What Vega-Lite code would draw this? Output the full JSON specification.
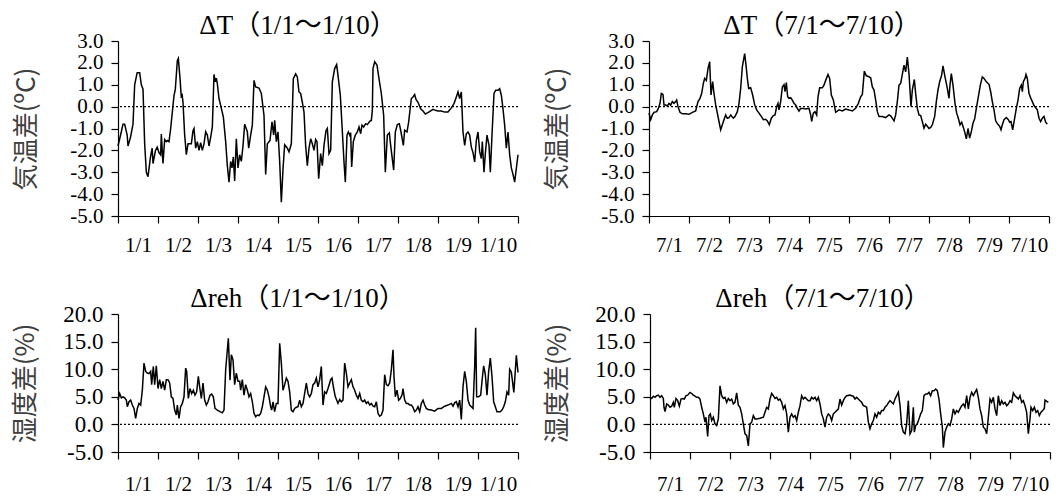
{
"$schema": "https://vega.github.io/schema/vega-lite/v6.json",
"background": "white",
"padding": {"left": 12, "top": 12, "right": 0, "bottom": 0},
"config": {
  "view": {"stroke": null},
  "title": {"font": "Liberation Serif, Noto Sans CJK JP", "fontSize": 27, "fontWeight": "normal", "color": "black", "anchor": "middle", "offset": -10},
  "axis": {"grid": false, "ticks": true, "tickOpacity": 1, "tickWidth": 1.2, "domainColor": "black", "domainWidth": 1.2, "tickColor": "black", "tickSize": 7, "labelFont": "Liberation Serif", "labelFontSize": 21, "labelColor": "black", "labelPadding": 8, "labelOverlap": false, "labelSeparation": 0, "titleFont": "Noto Sans CJK JP", "titleFontSize": 26, "titleFontWeight": "normal", "titleColor": "#404040"},
  "axisY": {"labelOverlap": false, "ticks": true},
  "axisX": {"ticks": true},
  "line": {"color": "black", "strokeWidth": 1.5},
  "rule": {"color": "black", "strokeWidth": 1.2, "strokeDash": [2, 2]}
},
"datasets": {
"tjan": [{"h":0,"v":-1.8},{"h":2,"v":-1.15},{"h":3,"v":-0.8},{"h":4,"v":-0.8},{"h":5.5,"v":-1.3},{"h":6,"v":-1.8},{"h":7.5,"v":-1.4},{"h":9,"v":-0.8},{"h":10,"v":1.0},{"h":11.5,"v":1.55},{"h":13,"v":1.55},{"h":14,"v":1.0},{"h":15,"v":0.8},{"h":16,"v":-1.7},{"h":17,"v":-3.0},{"h":18,"v":-3.2},{"h":19.5,"v":-2.3},{"h":20.5,"v":-1.9},{"h":21,"v":-2.6},{"h":22.5,"v":-2.0},{"h":23.5,"v":-1.85},{"h":24.6,"v":-2.1},{"h":25.6,"v":-2.2},{"h":26,"v":-1.25},{"h":27,"v":-2.6},{"h":28,"v":-1.5},{"h":29,"v":-1.6},{"h":29.6,"v":-1.55},{"h":30.6,"v":-1.6},{"h":31.6,"v":-1.0},{"h":33.6,"v":0.5},{"h":34.4,"v":0.8},{"h":35.6,"v":2.1},{"h":36.2,"v":2.2},{"h":37.2,"v":1.3},{"h":38,"v":0.4},{"h":38.4,"v":0.6},{"h":39,"v":0.2},{"h":40,"v":-1.3},{"h":41,"v":-2.2},{"h":42,"v":-1.7},{"h":44,"v":-1.7},{"h":45,"v":-1.1},{"h":45.6,"v":-1.0},{"h":46.6,"v":-1.9},{"h":47.6,"v":-1.6},{"h":48.6,"v":-2.0},{"h":49.6,"v":-1.65},{"h":50.6,"v":-2.0},{"h":51.6,"v":-1.7},{"h":52.6,"v":-1.15},{"h":53.6,"v":-1.3},{"h":54.6,"v":-1.8},{"h":55.6,"v":-1.4},{"h":56.6,"v":-0.93},{"h":57.6,"v":1.47},{"h":58.4,"v":1.13},{"h":59,"v":1.3},{"h":59.6,"v":1.05},{"h":60.6,"v":0.37},{"h":61.6,"v":0.06},{"h":63.2,"v":-0.47},{"h":64.6,"v":-1.6},{"h":65.6,"v":-2.7},{"h":66.6,"v":-3.45},{"h":67.6,"v":-2.5},{"h":68.4,"v":-2.8},{"h":69.2,"v":-2.3},{"h":70,"v":-3.4},{"h":71,"v":-1.47},{"h":72,"v":-2.8},{"h":73,"v":-2.2},{"h":74,"v":-2.5},{"h":75,"v":-1.8},{"h":76,"v":-0.8},{"h":77.6,"v":-1.15},{"h":78.4,"v":-1.9},{"h":79.6,"v":-1.3},{"h":80.6,"v":-0.85},{"h":81.6,"v":1.2},{"h":82.6,"v":0.9},{"h":84.6,"v":0.85},{"h":86,"v":0.6},{"h":87.6,"v":-0.4},{"h":88.6,"v":-3.1},{"h":89.6,"v":-1.7},{"h":91.2,"v":-1.55},{"h":92.4,"v":-0.7},{"h":93.4,"v":-1.3},{"h":94,"v":-0.63},{"h":95,"v":-1.6},{"h":96,"v":-1.15},{"h":97,"v":-2.5},{"h":98,"v":-4.37},{"h":99,"v":-2.85},{"h":100,"v":-1.74},{"h":101.6,"v":-1.9},{"h":102.6,"v":-2.07},{"h":104,"v":-1.7},{"h":105.2,"v":1.28},{"h":106.6,"v":1.5},{"h":107.6,"v":1.36},{"h":108.6,"v":0.67},{"h":109.6,"v":0.6},{"h":110.6,"v":0.2},{"h":111.6,"v":-0.25},{"h":112.6,"v":-1.8},{"h":113.6,"v":-2.7},{"h":114.6,"v":-1.9},{"h":115.6,"v":-1.47},{"h":116.6,"v":-1.7},{"h":117.6,"v":-2.0},{"h":118.6,"v":-1.5},{"h":119.4,"v":-1.6},{"h":120.4,"v":-3.3},{"h":121.6,"v":-2.15},{"h":122.6,"v":-2.7},{"h":123.6,"v":-1.77},{"h":124.8,"v":-1.1},{"h":125.6,"v":-1.0},{"h":126.6,"v":-2.15},{"h":127.6,"v":-2.0},{"h":128.6,"v":1.13},{"h":130,"v":1.74},{"h":131.2,"v":1.92},{"h":132,"v":1.43},{"h":133.4,"v":0.52},{"h":134.4,"v":-0.85},{"h":135.6,"v":-2.53},{"h":136.4,"v":-3.45},{"h":137.4,"v":-1.3},{"h":138.2,"v":-1.16},{"h":139,"v":-1.3},{"h":139.6,"v":-1.2},{"h":140.2,"v":-2.76},{"h":141.2,"v":-1.6},{"h":142.4,"v":-1.3},{"h":143.6,"v":-1.16},{"h":144.6,"v":-0.93},{"h":145.6,"v":-1.24},{"h":146.4,"v":-0.85},{"h":147.4,"v":-0.93},{"h":148.6,"v":-0.78},{"h":149.6,"v":-0.82},{"h":151,"v":-0.67},{"h":152,"v":-0.63},{"h":152.6,"v":-0.17},{"h":153,"v":1.74},{"h":154,"v":2.05},{"h":155.4,"v":1.9},{"h":156.6,"v":1.28},{"h":158,"v":0.6},{"h":159.4,"v":-0.4},{"h":160.4,"v":-3.0},{"h":161.6,"v":-1.3},{"h":162.8,"v":-1.2},{"h":163.6,"v":-1.77},{"h":165.4,"v":-2.9},{"h":166.4,"v":-1.16},{"h":167.6,"v":-0.82},{"h":168.8,"v":-0.78},{"h":169.8,"v":-1.16},{"h":171.2,"v":-1.77},{"h":172,"v":-1.08},{"h":173.4,"v":-1.16},{"h":174.4,"v":-0.7},{"h":176,"v":0.37},{"h":177,"v":0.44},{"h":178,"v":0.55},{"h":178.8,"v":0.33},{"h":180,"v":0.2},{"h":181.6,"v":-0.1},{"h":183,"v":-0.2},{"h":184.4,"v":-0.34},{"h":186.4,"v":-0.25},{"h":189,"v":-0.12},{"h":190.4,"v":-0.17},{"h":192,"v":-0.2},{"h":194,"v":-0.2},{"h":196,"v":-0.25},{"h":198,"v":-0.25},{"h":200,"v":-0.06},{"h":201.6,"v":0.14},{"h":203,"v":0.44},{"h":204,"v":0.67},{"h":205,"v":0.37},{"h":206,"v":0.67},{"h":207,"v":-1.16},{"h":208,"v":-1.77},{"h":209,"v":-1.24},{"h":210,"v":-1.16},{"h":211,"v":-1.3},{"h":212,"v":-1.85},{"h":213,"v":-2.1},{"h":214,"v":-2.53},{"h":215,"v":-1.55},{"h":216,"v":-1.16},{"h":217,"v":-2.06},{"h":218,"v":-2.37},{"h":218.6,"v":-1.6},{"h":219.6,"v":-3.0},{"h":220.4,"v":-2.15},{"h":221.4,"v":-1.3},{"h":222.6,"v":-1.77},{"h":223.4,"v":-3.0},{"h":224.4,"v":-1.3},{"h":225.6,"v":0.6},{"h":226.6,"v":0.75},{"h":228,"v":0.75},{"h":229,"v":0.82},{"h":230,"v":0.52},{"h":231,"v":-0.1},{"h":232,"v":-0.85},{"h":233,"v":-1.9},{"h":234,"v":-1.16},{"h":235,"v":-2.2},{"h":236,"v":-2.8},{"h":237,"v":-3.1},{"h":238,"v":-3.45},{"h":240,"v":-2.2}],
"tjul": [{"h":0,"v":-0.3},{"h":1,"v":-0.6},{"h":2,"v":-0.38},{"h":3,"v":-0.26},{"h":4.6,"v":-0.23},{"h":5.6,"v":-0.08},{"h":6.6,"v":0.15},{"h":7.4,"v":0.6},{"h":8.4,"v":0.56},{"h":9,"v":0.07},{"h":10,"v":0.07},{"h":11,"v":0.03},{"h":12,"v":0.15},{"h":13,"v":0.07},{"h":14,"v":0.23},{"h":15,"v":0.15},{"h":16,"v":0.23},{"h":16.6,"v":0.3},{"h":17.4,"v":0.0},{"h":18.6,"v":-0.26},{"h":20,"v":-0.33},{"h":22,"v":-0.33},{"h":24,"v":-0.35},{"h":26,"v":-0.26},{"h":28,"v":-0.2},{"h":29.4,"v":0.23},{"h":30.6,"v":0.38},{"h":31.6,"v":0.6},{"h":32.6,"v":1.06},{"h":33.4,"v":1.29},{"h":34.4,"v":1.2},{"h":35.4,"v":1.74},{"h":36.4,"v":2.05},{"h":37.2,"v":0.53},{"h":38.2,"v":1.14},{"h":39,"v":0.6},{"h":40,"v":0.08},{"h":41,"v":-0.3},{"h":42,"v":-0.68},{"h":43,"v":-1.06},{"h":44,"v":-0.83},{"h":45,"v":-0.6},{"h":46,"v":-0.38},{"h":47,"v":-0.53},{"h":48,"v":-0.5},{"h":49,"v":-0.38},{"h":50.6,"v":-0.53},{"h":51.6,"v":-0.45},{"h":53,"v":-0.23},{"h":54,"v":0.15},{"h":55,"v":0.83},{"h":56,"v":1.82},{"h":57.4,"v":2.42},{"h":58.2,"v":1.9},{"h":59,"v":1.29},{"h":59.8,"v":0.83},{"h":61,"v":0.86},{"h":62.2,"v":0.53},{"h":63.4,"v":0.08},{"h":64.6,"v":-0.15},{"h":66,"v":-0.3},{"h":67.4,"v":-0.45},{"h":68.6,"v":-0.6},{"h":70,"v":-0.58},{"h":71,"v":-0.65},{"h":72.2,"v":-0.83},{"h":73.4,"v":-0.53},{"h":74.6,"v":-0.41},{"h":75.6,"v":-0.38},{"h":76.6,"v":0.0},{"h":77.4,"v":0.15},{"h":78,"v":-0.15},{"h":79,"v":0.23},{"h":80,"v":0.9},{"h":81,"v":1.0},{"h":81.6,"v":0.68},{"h":82.4,"v":1.1},{"h":83.2,"v":0.45},{"h":84,"v":0.38},{"h":85,"v":0.41},{"h":86,"v":0.3},{"h":87,"v":0.15},{"h":88,"v":0.08},{"h":89,"v":-0.08},{"h":90,"v":-0.2},{"h":91,"v":-0.08},{"h":92.6,"v":-0.08},{"h":94,"v":-0.11},{"h":96,"v":-0.08},{"h":97,"v":-0.38},{"h":97.6,"v":-0.68},{"h":98.6,"v":-0.3},{"h":99.6,"v":-0.23},{"h":100.6,"v":-0.38},{"h":101.4,"v":0.45},{"h":102.4,"v":0.86},{"h":104,"v":0.86},{"h":105,"v":0.98},{"h":106,"v":1.2},{"h":107.4,"v":1.47},{"h":108.4,"v":1.29},{"h":109.4,"v":0.53},{"h":110.6,"v":0.3},{"h":112,"v":-0.26},{"h":114,"v":-0.15},{"h":116,"v":-0.2},{"h":118,"v":-0.11},{"h":120,"v":-0.15},{"h":122,"v":-0.2},{"h":124,"v":-0.08},{"h":125.6,"v":0.15},{"h":127,"v":0.45},{"h":128,"v":0.56},{"h":129.2,"v":1.62},{"h":130.4,"v":1.41},{"h":131.6,"v":1.38},{"h":133,"v":1.32},{"h":134,"v":0.9},{"h":135,"v":0.76},{"h":136,"v":0.3},{"h":137,"v":-0.23},{"h":138,"v":-0.45},{"h":140,"v":-0.45},{"h":142,"v":-0.5},{"h":144,"v":-0.38},{"h":145,"v":-0.42},{"h":146,"v":-0.53},{"h":147,"v":-0.65},{"h":148,"v":-0.38},{"h":149,"v":0.23},{"h":150,"v":0.98},{"h":151,"v":1.06},{"h":152,"v":1.47},{"h":153,"v":1.9},{"h":154,"v":1.59},{"h":155,"v":2.27},{"h":156,"v":1.5},{"h":157.2,"v":0.0},{"h":158,"v":0.76},{"h":159.2,"v":1.24},{"h":160,"v":0.6},{"h":161,"v":-0.08},{"h":162,"v":-0.38},{"h":163,"v":-0.41},{"h":164,"v":-0.68},{"h":165,"v":-0.98},{"h":166,"v":-0.8},{"h":167,"v":-0.9},{"h":168,"v":-1.0},{"h":169,"v":-0.95},{"h":170,"v":-0.83},{"h":171.4,"v":-0.45},{"h":172.4,"v":0.23},{"h":173.4,"v":0.76},{"h":174.4,"v":1.14},{"h":175.6,"v":1.44},{"h":176.4,"v":1.86},{"h":177.6,"v":1.36},{"h":179,"v":0.83},{"h":180,"v":0.38},{"h":180.6,"v":0.98},{"h":181.4,"v":1.51},{"h":182.4,"v":0.98},{"h":183.6,"v":0.15},{"h":184.6,"v":-0.3},{"h":185.6,"v":-0.53},{"h":186.6,"v":-0.83},{"h":187.6,"v":-0.71},{"h":188.6,"v":-0.95},{"h":189.6,"v":-1.21},{"h":190.4,"v":-1.47},{"h":191.4,"v":-1.0},{"h":192.4,"v":-1.44},{"h":193.4,"v":-1.14},{"h":194.4,"v":-0.76},{"h":195.4,"v":-0.56},{"h":196.4,"v":-0.08},{"h":197.6,"v":0.45},{"h":198.8,"v":0.98},{"h":200,"v":1.36},{"h":201,"v":1.29},{"h":202.4,"v":1.14},{"h":204,"v":1.02},{"h":205,"v":0.68},{"h":206,"v":0.23},{"h":207,"v":-0.15},{"h":208,"v":-0.65},{"h":209.2,"v":-0.8},{"h":210.4,"v":-0.9},{"h":211.2,"v":-1.06},{"h":212,"v":-0.83},{"h":213,"v":-0.6},{"h":214.4,"v":-0.5},{"h":215.6,"v":-0.6},{"h":216.4,"v":-0.71},{"h":217.2,"v":-0.68},{"h":218.2,"v":-1.06},{"h":219.4,"v":-0.53},{"h":220.4,"v":-0.08},{"h":221.4,"v":0.3},{"h":222.4,"v":0.83},{"h":223.4,"v":0.98},{"h":224,"v":0.68},{"h":224.6,"v":1.14},{"h":225.6,"v":1.29},{"h":226.2,"v":1.47},{"h":227,"v":1.29},{"h":228,"v":0.6},{"h":229,"v":0.4},{"h":230,"v":0.23},{"h":231,"v":0.05},{"h":232,"v":-0.05},{"h":233,"v":-0.15},{"h":234,"v":-0.53},{"h":235,"v":-0.68},{"h":236,"v":-0.53},{"h":237,"v":-0.45},{"h":238,"v":-0.71},{"h":239,"v":-0.8}],
"rjan": [{"h":0,"v":4.4},{"h":1,"v":5.6},{"h":2,"v":4.8},{"h":3,"v":5.0},{"h":4,"v":4.8},{"h":5,"v":4.4},{"h":5.6,"v":3.2},{"h":6.6,"v":4.1},{"h":7.6,"v":4.4},{"h":8.6,"v":3.5},{"h":9.6,"v":2.9},{"h":10.6,"v":1.1},{"h":11.6,"v":2.9},{"h":12.6,"v":3.8},{"h":13.6,"v":3.5},{"h":14.6,"v":6.2},{"h":15.6,"v":11.1},{"h":16.6,"v":9.6},{"h":17.6,"v":9.3},{"h":18.6,"v":9.2},{"h":19.6,"v":9.6},{"h":20.2,"v":7.2},{"h":21.2,"v":10.5},{"h":22,"v":7.2},{"h":23,"v":10.6},{"h":24,"v":6.5},{"h":25,"v":8.1},{"h":26,"v":6.5},{"h":27,"v":7.8},{"h":28,"v":6.2},{"h":29,"v":8.1},{"h":30,"v":8.1},{"h":31,"v":7.5},{"h":32,"v":5.0},{"h":33,"v":4.7},{"h":34,"v":2.6},{"h":35,"v":1.7},{"h":35.6,"v":3.5},{"h":36.6,"v":1.1},{"h":37.6,"v":3.2},{"h":38.6,"v":3.8},{"h":39.6,"v":5.0},{"h":40.6,"v":10.2},{"h":41.2,"v":9.6},{"h":42.2,"v":4.7},{"h":43.2,"v":6.5},{"h":44.2,"v":5.6},{"h":45.2,"v":6.2},{"h":46.2,"v":5.3},{"h":47.2,"v":5.9},{"h":48.2,"v":8.7},{"h":49,"v":6.8},{"h":50,"v":4.7},{"h":51,"v":7.5},{"h":52,"v":4.4},{"h":53,"v":3.5},{"h":54,"v":4.1},{"h":55.2,"v":5.3},{"h":56.2,"v":5.5},{"h":57.2,"v":5.0},{"h":58.2,"v":2.9},{"h":59.6,"v":2.6},{"h":61.2,"v":2.3},{"h":62.6,"v":2.1},{"h":63.6,"v":2.6},{"h":64.6,"v":9.9},{"h":66.2,"v":15.6},{"h":67.2,"v":8.0},{"h":68,"v":12.6},{"h":69,"v":11.7},{"h":70,"v":7.2},{"h":71,"v":9.3},{"h":72,"v":7.8},{"h":73,"v":7.8},{"h":73.6,"v":6.2},{"h":74.6,"v":8.1},{"h":75.6,"v":5.3},{"h":76.6,"v":7.2},{"h":77.6,"v":6.2},{"h":78.6,"v":5.0},{"h":79.6,"v":5.6},{"h":80.6,"v":4.1},{"h":81.6,"v":2.0},{"h":82.6,"v":1.4},{"h":83.6,"v":1.7},{"h":84.6,"v":1.6},{"h":85.6,"v":2.0},{"h":86.6,"v":3.2},{"h":87.6,"v":5.0},{"h":88.6,"v":6.8},{"h":89.6,"v":6.2},{"h":90.6,"v":5.0},{"h":91.6,"v":3.2},{"h":92.2,"v":2.6},{"h":93,"v":4.1},{"h":94,"v":2.3},{"h":95,"v":3.8},{"h":96,"v":3.8},{"h":97,"v":14.7},{"h":98,"v":11.1},{"h":99,"v":6.2},{"h":100,"v":7.2},{"h":101,"v":8.4},{"h":102,"v":7.8},{"h":103,"v":5.9},{"h":104,"v":2.6},{"h":105,"v":2.3},{"h":106,"v":2.9},{"h":107,"v":3.1},{"h":108,"v":3.2},{"h":109,"v":4.4},{"h":110,"v":3.2},{"h":111,"v":3.8},{"h":112,"v":5.6},{"h":113,"v":7.5},{"h":114,"v":5.6},{"h":115,"v":5.0},{"h":116,"v":5.6},{"h":117,"v":7.2},{"h":118,"v":7.5},{"h":119,"v":8.4},{"h":120,"v":6.8},{"h":121,"v":8.1},{"h":122,"v":10.5},{"h":123,"v":3.5},{"h":124,"v":5.9},{"h":125,"v":5.6},{"h":126,"v":6.5},{"h":127.6,"v":8.1},{"h":128.4,"v":8.4},{"h":129.4,"v":6.5},{"h":130.4,"v":5.0},{"h":132,"v":3.8},{"h":133,"v":4.5},{"h":134,"v":4.1},{"h":135,"v":4.4},{"h":136,"v":11.1},{"h":137,"v":9.3},{"h":138,"v":6.8},{"h":139,"v":7.5},{"h":140,"v":8.1},{"h":141,"v":6.8},{"h":142,"v":6.2},{"h":143,"v":5.3},{"h":144,"v":4.7},{"h":145,"v":5.6},{"h":146,"v":4.4},{"h":147,"v":4.1},{"h":148,"v":4.4},{"h":149,"v":3.8},{"h":150,"v":4.1},{"h":151,"v":3.5},{"h":152,"v":3.8},{"h":153,"v":3.3},{"h":154,"v":3.2},{"h":155,"v":4.1},{"h":156,"v":2.0},{"h":157,"v":1.5},{"h":158,"v":1.7},{"h":159,"v":2.6},{"h":160,"v":9.0},{"h":161,"v":7.2},{"h":162,"v":7.0},{"h":163,"v":7.5},{"h":164,"v":9.9},{"h":165,"v":13.5},{"h":165.6,"v":8.7},{"h":166.4,"v":5.0},{"h":167.4,"v":6.2},{"h":168.4,"v":4.4},{"h":169.4,"v":4.7},{"h":170.4,"v":5.3},{"h":171,"v":6.5},{"h":172,"v":4.4},{"h":173,"v":3.8},{"h":174,"v":3.8},{"h":175,"v":3.5},{"h":176,"v":3.5},{"h":177,"v":3.1},{"h":178,"v":2.3},{"h":179,"v":2.6},{"h":180,"v":3.2},{"h":181,"v":2.3},{"h":182,"v":3.8},{"h":183,"v":4.4},{"h":184,"v":3.5},{"h":185,"v":2.9},{"h":186,"v":2.7},{"h":188,"v":2.6},{"h":190,"v":2.4},{"h":192,"v":2.9},{"h":194,"v":2.9},{"h":196,"v":3.3},{"h":198,"v":3.5},{"h":200,"v":3.8},{"h":201,"v":3.3},{"h":202,"v":3.9},{"h":203,"v":4.1},{"h":204,"v":3.2},{"h":205,"v":4.4},{"h":206,"v":0.9},{"h":207,"v":6.8},{"h":208,"v":9.6},{"h":209,"v":7.8},{"h":210,"v":4.4},{"h":211,"v":3.5},{"h":212,"v":3.2},{"h":213,"v":2.9},{"h":214,"v":10.5},{"h":214.6,"v":17.5},{"h":215.2,"v":5.0},{"h":216.4,"v":5.0},{"h":217.6,"v":5.3},{"h":218.6,"v":8.4},{"h":219.4,"v":10.6},{"h":220.4,"v":9.0},{"h":221.4,"v":5.3},{"h":222.4,"v":9.6},{"h":223.4,"v":12.0},{"h":224.4,"v":8.7},{"h":225.4,"v":4.1},{"h":226.4,"v":3.2},{"h":227.4,"v":2.3},{"h":228.4,"v":2.3},{"h":229.4,"v":2.3},{"h":230.4,"v":2.6},{"h":231.4,"v":3.2},{"h":232.4,"v":4.1},{"h":233.4,"v":5.9},{"h":234.4,"v":5.3},{"h":235,"v":10.0},{"h":236,"v":9.5},{"h":237.5,"v":5.8},{"h":239,"v":12.5},{"h":240,"v":9.4}],
"rjul": [{"h":0,"v":4.9},{"h":1,"v":4.7},{"h":2,"v":5.1},{"h":3,"v":4.9},{"h":4,"v":5.2},{"h":5,"v":5.3},{"h":6,"v":4.9},{"h":7,"v":5.2},{"h":8,"v":4.7},{"h":8.4,"v":3.1},{"h":9,"v":2.3},{"h":10,"v":3.7},{"h":11,"v":3.5},{"h":12,"v":3.1},{"h":13,"v":3.3},{"h":14,"v":4.0},{"h":14.6,"v":3.1},{"h":15.6,"v":4.7},{"h":16.6,"v":4.3},{"h":17.6,"v":3.3},{"h":18.6,"v":4.6},{"h":19.6,"v":4.7},{"h":20.6,"v":4.6},{"h":21.6,"v":5.2},{"h":22.6,"v":5.3},{"h":24,"v":5.8},{"h":25,"v":5.6},{"h":26,"v":5.3},{"h":27,"v":5.1},{"h":28,"v":4.9},{"h":29,"v":4.9},{"h":30,"v":4.6},{"h":31,"v":3.1},{"h":32,"v":1.9},{"h":33,"v":0.4},{"h":33.6,"v":1.3},{"h":34.6,"v":-2.2},{"h":35.4,"v":1.6},{"h":36.2,"v":1.9},{"h":37,"v":0.7},{"h":38,"v":1.3},{"h":39,"v":0.1},{"h":40,"v":-0.2},{"h":41,"v":1.0},{"h":42,"v":7.0},{"h":43,"v":5.2},{"h":44,"v":4.7},{"h":45,"v":4.9},{"h":46,"v":4.0},{"h":47,"v":4.7},{"h":48,"v":4.3},{"h":49,"v":4.6},{"h":50,"v":3.7},{"h":51,"v":4.0},{"h":52,"v":5.7},{"h":53,"v":3.5},{"h":54,"v":3.1},{"h":55,"v":1.9},{"h":56,"v":0.1},{"h":57,"v":-1.7},{"h":58,"v":-2.0},{"h":59,"v":-3.9},{"h":60,"v":0.1},{"h":61,"v":0.4},{"h":62,"v":1.6},{"h":63,"v":1.0},{"h":64,"v":1.0},{"h":66,"v":1.1},{"h":68,"v":1.3},{"h":69,"v":2.2},{"h":70,"v":3.1},{"h":71,"v":2.8},{"h":72,"v":4.6},{"h":73,"v":5.6},{"h":74,"v":5.2},{"h":75,"v":4.7},{"h":76,"v":4.9},{"h":77,"v":4.4},{"h":78,"v":4.6},{"h":79,"v":4.0},{"h":80,"v":2.8},{"h":81,"v":3.4},{"h":82,"v":1.9},{"h":83,"v":-1.4},{"h":84,"v":1.3},{"h":85,"v":1.9},{"h":86,"v":1.3},{"h":87,"v":1.6},{"h":88,"v":0.7},{"h":89,"v":2.2},{"h":90,"v":3.4},{"h":91,"v":5.2},{"h":92,"v":4.6},{"h":93,"v":4.9},{"h":94,"v":4.6},{"h":95,"v":4.3},{"h":96,"v":4.3},{"h":97,"v":4.9},{"h":98,"v":4.6},{"h":99,"v":4.9},{"h":100,"v":4.3},{"h":101,"v":4.9},{"h":102,"v":3.7},{"h":103,"v":1.9},{"h":104,"v":1.0},{"h":105,"v":-0.5},{"h":106,"v":1.3},{"h":107,"v":1.9},{"h":108,"v":1.6},{"h":109,"v":0.7},{"h":110,"v":1.9},{"h":111,"v":2.2},{"h":112,"v":2.5},{"h":113,"v":2.8},{"h":114,"v":4.6},{"h":115,"v":3.5},{"h":116,"v":4.3},{"h":117,"v":4.9},{"h":118,"v":5.2},{"h":120,"v":5.3},{"h":121,"v":5.2},{"h":122,"v":5.1},{"h":123,"v":4.6},{"h":124,"v":4.9},{"h":125,"v":4.6},{"h":126,"v":4.3},{"h":127,"v":4.0},{"h":128,"v":3.4},{"h":129,"v":3.3},{"h":130,"v":3.1},{"h":131,"v":0.4},{"h":132,"v":-0.8},{"h":133,"v":0.1},{"h":134,"v":0.7},{"h":135,"v":1.9},{"h":136,"v":1.3},{"h":137,"v":2.2},{"h":138,"v":1.9},{"h":139,"v":2.5},{"h":140,"v":2.5},{"h":141,"v":3.1},{"h":142,"v":3.4},{"h":143,"v":3.9},{"h":144,"v":4.3},{"h":145,"v":4.0},{"h":146,"v":3.7},{"h":147,"v":4.6},{"h":148,"v":5.2},{"h":149,"v":5.8},{"h":150,"v":3.5},{"h":151,"v":-0.2},{"h":152,"v":-1.4},{"h":153,"v":-1.7},{"h":154,"v":0.1},{"h":155,"v":4.3},{"h":156,"v":-1.7},{"h":157,"v":-1.1},{"h":158,"v":3.1},{"h":158.6,"v":-1.4},{"h":159.4,"v":-0.2},{"h":160.4,"v":0.1},{"h":161.4,"v":1.0},{"h":162.4,"v":1.9},{"h":163.4,"v":2.5},{"h":164.4,"v":5.2},{"h":165.4,"v":5.5},{"h":166.4,"v":5.5},{"h":167.4,"v":5.8},{"h":168.4,"v":5.2},{"h":169.4,"v":6.1},{"h":170.4,"v":6.1},{"h":171.4,"v":6.4},{"h":172.4,"v":6.1},{"h":173.4,"v":4.6},{"h":174.4,"v":1.9},{"h":175.4,"v":-0.5},{"h":176,"v":-4.2},{"h":177,"v":-1.4},{"h":178,"v":-0.5},{"h":179,"v":0.1},{"h":180,"v":-0.2},{"h":181,"v":1.0},{"h":182,"v":2.8},{"h":183,"v":1.9},{"h":184,"v":2.5},{"h":185,"v":2.2},{"h":186,"v":2.8},{"h":187,"v":3.4},{"h":188,"v":3.7},{"h":189,"v":3.1},{"h":190,"v":5.2},{"h":191,"v":2.8},{"h":192,"v":4.9},{"h":193,"v":5.8},{"h":194,"v":5.2},{"h":195,"v":5.8},{"h":196,"v":6.3},{"h":197,"v":4.9},{"h":198,"v":2.8},{"h":199,"v":1.6},{"h":200,"v":-0.5},{"h":201,"v":-0.8},{"h":202,"v":-1.7},{"h":203,"v":1.3},{"h":204,"v":4.6},{"h":205,"v":4.0},{"h":206,"v":4.9},{"h":207,"v":2.8},{"h":208,"v":1.6},{"h":209,"v":5.2},{"h":210,"v":3.4},{"h":211,"v":4.3},{"h":212,"v":3.7},{"h":213,"v":4.0},{"h":214,"v":3.4},{"h":215,"v":3.7},{"h":216,"v":4.3},{"h":217,"v":4.0},{"h":218,"v":5.7},{"h":219,"v":5.2},{"h":220,"v":4.9},{"h":221,"v":4.6},{"h":222,"v":5.2},{"h":223,"v":4.0},{"h":224,"v":4.3},{"h":225,"v":3.4},{"h":226,"v":2.2},{"h":227,"v":-1.7},{"h":228,"v":1.0},{"h":228.6,"v":3.1},{"h":229.6,"v":2.5},{"h":230.6,"v":3.1},{"h":231.6,"v":2.2},{"h":232.6,"v":2.5},{"h":233.6,"v":1.6},{"h":234.6,"v":2.2},{"h":235.6,"v":2.5},{"h":236.6,"v":2.9},{"h":237,"v":4.4},{"h":239,"v":4.0}]
},
"spacing": 30,
"vconcat": [
 {"spacing": 6, "hconcat": [
  {"width": 400, "height": 175, "title": {"text": "ΔT（1/1～1/10）", "dx": -20},
   "layer": [
    {"data": {"name": "tjan"}, "mark": {"type": "line"},
     "encoding": {
      "x": {"field": "h", "type": "quantitative", "scale": {"domain": [0, 240], "nice": false, "zero": false},
            "axis": {"title": null, "ticks": true, "tickSize": 7, "tickColor": "black", "tickWidth": 1.2, "values": [0,24,48,72,96,120,144,168,192,216,240], "labelExpr": "datum.value < 240 ? '1/' + (datum.value / 24 + 1) : ''", "labelOffset": 20, "labelFlush": false, "labelBound": false, "labelOverlap": false, "labelPadding": 11}},
      "y": {"field": "v", "type": "quantitative", "scale": {"domain": [-5, 3], "nice": false, "zero": false},
            "axis": {"title": "気温差(ºC)", "ticks": true, "tickSize": 7, "tickColor": "black", "tickWidth": 1.2, "labelFontSize": 21, "values": [-5,-4,-3,-2,-1,0,1,2,3], "labelOverlap": false, "labelExpr": "(datum.value < 0 ? '-' : '') + format(abs(datum.value), '.1f')", "titlePadding": 30}}
     }},
    {"data": {"values": [{"v": 0}]}, "mark": {"type": "rule"},
     "encoding": {"y": {"field": "v", "type": "quantitative", "scale": {"domain": [-5, 3], "nice": false, "zero": false},
            "axis": {"title": "気温差(ºC)", "ticks": true, "tickSize": 7, "tickColor": "black", "tickWidth": 1.2, "labelFontSize": 21, "values": [-5,-4,-3,-2,-1,0,1,2,3], "labelOverlap": false, "labelExpr": "(datum.value < 0 ? '-' : '') + format(abs(datum.value), '.1f')", "titlePadding": 30}}}}
   ]},
  {"width": 400, "height": 175, "title": {"text": "ΔT（7/1～7/10）", "dx": -27},
   "layer": [
    {"data": {"name": "tjul"}, "mark": {"type": "line"},
     "encoding": {
      "x": {"field": "h", "type": "quantitative", "scale": {"domain": [0, 240], "nice": false, "zero": false},
            "axis": {"title": null, "ticks": true, "tickSize": 7, "tickColor": "black", "tickWidth": 1.2, "values": [0,24,48,72,96,120,144,168,192,216,240], "labelExpr": "datum.value < 240 ? '7/' + (datum.value / 24 + 1) : ''", "labelOffset": 20, "labelFlush": false, "labelBound": false, "labelOverlap": false, "labelPadding": 11}},
      "y": {"field": "v", "type": "quantitative", "scale": {"domain": [-5, 3], "nice": false, "zero": false},
            "axis": {"title": "気温差(ºC)", "ticks": true, "tickSize": 7, "tickColor": "black", "tickWidth": 1.2, "labelFontSize": 21, "values": [-5,-4,-3,-2,-1,0,1,2,3], "labelOverlap": false, "labelExpr": "(datum.value < 0 ? '-' : '') + format(abs(datum.value), '.1f')", "titlePadding": 30}}
     }},
    {"data": {"values": [{"v": 0}]}, "mark": {"type": "rule"},
     "encoding": {"y": {"field": "v", "type": "quantitative", "scale": {"domain": [-5, 3], "nice": false, "zero": false},
            "axis": {"title": "気温差(ºC)", "ticks": true, "tickSize": 7, "tickColor": "black", "tickWidth": 1.2, "labelFontSize": 21, "values": [-5,-4,-3,-2,-1,0,1,2,3], "labelOverlap": false, "labelExpr": "(datum.value < 0 ? '-' : '') + format(abs(datum.value), '.1f')", "titlePadding": 30}}}}
   ]}
 ]},
 {"spacing": 6, "hconcat": [
  {"width": 400, "height": 138, "title": {"text": "Δreh（1/1～1/10）", "dx": -20},
   "layer": [
    {"data": {"name": "rjan"}, "mark": {"type": "line"},
     "encoding": {
      "x": {"field": "h", "type": "quantitative", "scale": {"domain": [0, 240], "nice": false, "zero": false},
            "axis": {"title": null, "ticks": true, "tickSize": 7, "tickColor": "black", "tickWidth": 1.2, "values": [0,24,48,72,96,120,144,168,192,216,240], "labelExpr": "datum.value < 240 ? '1/' + (datum.value / 24 + 1) : ''", "labelOffset": 20, "labelFlush": false, "labelBound": false, "labelOverlap": false, "labelPadding": 14}},
      "y": {"field": "v", "type": "quantitative", "scale": {"domain": [-5, 20], "nice": false, "zero": false},
            "axis": {"title": "湿度差(%)", "ticks": true, "tickSize": 7, "tickColor": "black", "tickWidth": 1.2, "labelFontSize": 23, "values": [-5,0,5,10,15,20], "labelOverlap": false, "labelExpr": "(datum.value < 0 ? '-' : '') + format(abs(datum.value), '.1f')", "titlePadding": 24}}
     }},
    {"data": {"values": [{"v": 0}]}, "mark": {"type": "rule"},
     "encoding": {"y": {"field": "v", "type": "quantitative", "scale": {"domain": [-5, 20], "nice": false, "zero": false},
            "axis": {"title": "湿度差(%)", "ticks": true, "tickSize": 7, "tickColor": "black", "tickWidth": 1.2, "labelFontSize": 23, "values": [-5,0,5,10,15,20], "labelOverlap": false, "labelExpr": "(datum.value < 0 ? '-' : '') + format(abs(datum.value), '.1f')", "titlePadding": 24}}}}
   ]},
  {"width": 400, "height": 138, "title": {"text": "Δreh（7/1～7/10）", "dx": -27},
   "layer": [
    {"data": {"name": "rjul"}, "mark": {"type": "line"},
     "encoding": {
      "x": {"field": "h", "type": "quantitative", "scale": {"domain": [0, 240], "nice": false, "zero": false},
            "axis": {"title": null, "ticks": true, "tickSize": 7, "tickColor": "black", "tickWidth": 1.2, "values": [0,24,48,72,96,120,144,168,192,216,240], "labelExpr": "datum.value < 240 ? '7/' + (datum.value / 24 + 1) : ''", "labelOffset": 20, "labelFlush": false, "labelBound": false, "labelOverlap": false, "labelPadding": 14}},
      "y": {"field": "v", "type": "quantitative", "scale": {"domain": [-5, 20], "nice": false, "zero": false},
            "axis": {"title": "湿度差(%)", "ticks": true, "tickSize": 7, "tickColor": "black", "tickWidth": 1.2, "labelFontSize": 23, "values": [-5,0,5,10,15,20], "labelOverlap": false, "labelExpr": "(datum.value < 0 ? '-' : '') + format(abs(datum.value), '.1f')", "titlePadding": 24}}
     }},
    {"data": {"values": [{"v": 0}]}, "mark": {"type": "rule"},
     "encoding": {"y": {"field": "v", "type": "quantitative", "scale": {"domain": [-5, 20], "nice": false, "zero": false},
            "axis": {"title": "湿度差(%)", "ticks": true, "tickSize": 7, "tickColor": "black", "tickWidth": 1.2, "labelFontSize": 23, "values": [-5,0,5,10,15,20], "labelOverlap": false, "labelExpr": "(datum.value < 0 ? '-' : '') + format(abs(datum.value), '.1f')", "titlePadding": 24}}}}
   ]}
 ]}
]
}
